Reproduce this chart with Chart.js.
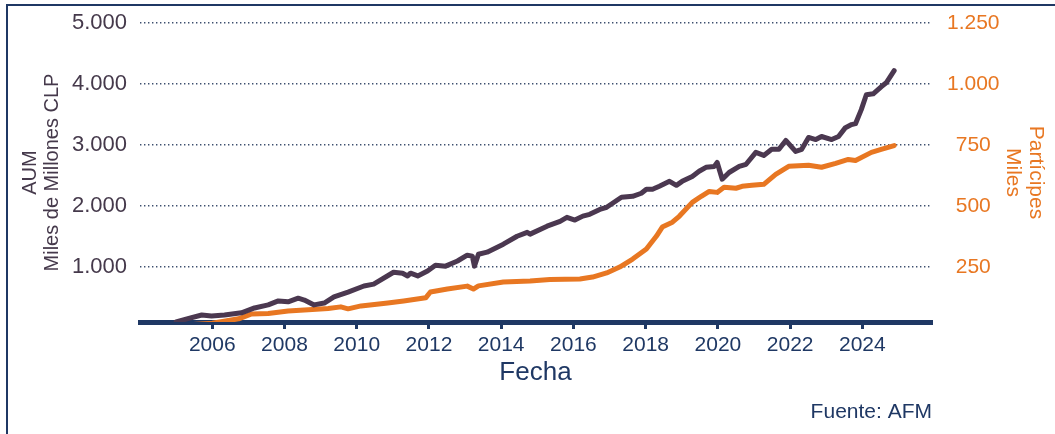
<!DOCTYPE html>
<html lang="es">
<head>
<meta charset="utf-8">
<title>AUM y Partícipes</title>
<script src="https://cdn.jsdelivr.net/npm/chart.js@4.4.1/dist/chart.umd.min.js"></script>
<style>
  html, body { margin: 0; padding: 0; background: #fff; }
  #wrap { width: 1055px; height: 434px; }
</style>
</head>
<body>
<div id="wrap"><canvas id="chart" width="1055" height="434"></canvas></div>
<script>
// AUM (miles de millones CLP)
const aumFechas = [
  2005.0, 2005.3, 2005.71, 2005.98, 2006.34, 2006.81, 2007.17, 2007.55, 2007.83, 2008.10,
  2008.38, 2008.55, 2008.82, 2009.10, 2009.37, 2009.76, 2010.20, 2010.47, 2011.02, 2011.27,
  2011.41, 2011.49, 2011.69, 2011.96, 2012.18, 2012.46, 2012.79, 2013.06, 2013.20, 2013.26,
  2013.37, 2013.61, 2014.06, 2014.44, 2014.72, 2014.80, 2015.27, 2015.63, 2015.82, 2016.04,
  2016.26, 2016.45, 2016.73, 2016.92, 2017.33, 2017.64, 2017.88, 2018.02, 2018.19, 2018.38,
  2018.66, 2018.85, 2019.01, 2019.29, 2019.48, 2019.67, 2019.90, 2019.98, 2020.12, 2020.31,
  2020.59, 2020.78, 2021.05, 2021.27, 2021.49, 2021.69, 2021.88, 2022.15, 2022.32, 2022.51,
  2022.71, 2022.87, 2023.15, 2023.34, 2023.53, 2023.70, 2023.81, 2023.97, 2024.11, 2024.30,
  2024.52, 2024.66, 2024.88
];
const aumValores = [
  100, 150, 215, 200, 215, 250, 330, 380, 445, 430,
  490, 460, 380, 410, 510, 590, 690, 720, 915, 900,
  855, 900, 855, 935, 1030, 1015, 1100, 1195, 1180, 1015,
  1210, 1245, 1375, 1505, 1570, 1540, 1670, 1750, 1815, 1770,
  1835, 1865, 1945, 1980, 2145, 2160, 2210, 2275, 2275, 2325,
  2405, 2340, 2405, 2485, 2570, 2635, 2650, 2715, 2440, 2550,
  2650, 2685, 2880, 2830, 2930, 2930, 3075, 2895, 2930, 3125,
  3090, 3140, 3090, 3140, 3285, 3335, 3350, 3580, 3825, 3840,
  3955, 4020, 4220
];

// Partícipes (miles)
const partFechas = [
  2005.0, 2006.0, 2006.73, 2007.09, 2007.55, 2008.10, 2008.66, 2009.21, 2009.56, 2009.76,
  2010.12, 2010.86, 2011.30, 2011.91, 2012.04, 2012.51, 2013.06, 2013.23, 2013.37, 2014.06,
  2014.80, 2015.35, 2016.18, 2016.53, 2016.92, 2017.28, 2017.64, 2018.02, 2018.30, 2018.46,
  2018.74, 2018.93, 2019.29, 2019.54, 2019.76, 2019.98, 2020.17, 2020.50, 2020.67, 2020.94,
  2021.27, 2021.60, 2021.96, 2022.51, 2022.87, 2023.26, 2023.61, 2023.81, 2024.25, 2024.52,
  2024.88
];
const partValores = [
  10, 20, 38, 58, 60, 70, 75, 80, 87, 79,
  91, 103, 111, 124, 148, 160, 172, 160, 173, 189,
  193, 199, 201, 209, 226, 250, 283, 324, 377, 414,
  434, 458, 515, 540, 560, 556, 577, 573, 581, 585,
  589, 630, 663, 667, 659, 675, 691, 687, 720, 732,
  748
];

// tick labels
const ticksAnios = [2006, 2008, 2010, 2012, 2014, 2016, 2018, 2020, 2022, 2024];
const ticksAUM = [1000, 2000, 3000, 4000, 5000];
const ticksPart = [250, 500, 750, 1000, 1250];

const NAVY = '#1f3864';
const PURPLE = '#4b3850';
const ORANGE = '#e87722';
const FONT = "'Liberation Sans', Arial, sans-serif";
const CLEAR = 'rgba(0,0,0,0)';

const fmtMiles = v => String(v).replace(/\B(?=(\d{3})+(?!\d))/g, '.');
const toPoints = (xs, ys) => xs.map((x, i) => ({ x: x, y: ys[i] }));

// frame + source note
const extras = {
  id: 'extras',
  beforeDraw(chart) {
    const ctx = chart.ctx;
    ctx.save();
    ctx.fillStyle = '#fff';
    ctx.fillRect(0, 0, chart.width, chart.height);
    ctx.fillStyle = NAVY;
    ctx.fillRect(6, 4, 2, chart.height - 4);
    ctx.fillRect(6, 4, chart.width - 6, 2);
    ctx.restore();
  },
  afterDraw(chart) {
    const ctx = chart.ctx;
    ctx.save();
    ctx.font = '21px ' + FONT;
    ctx.fillStyle = NAVY;
    ctx.textAlign = 'right';
    ctx.textBaseline = 'alphabetic';
    ctx.fillText('Fuente: AFM', chart.chartArea.right + 1, 418);
    ctx.restore();
  }
};

new Chart(document.getElementById('chart'), {
  type: 'line',
  data: {
    datasets: [
      {
        label: 'AUM',
        data: toPoints(aumFechas, aumValores),
        yAxisID: 'y',
        borderColor: PURPLE,
        borderWidth: 5,
        pointRadius: 0,
        tension: 0,
        borderJoinStyle: 'round',
        borderCapStyle: 'round'
      },
      {
        label: 'Partícipes',
        data: toPoints(partFechas, partValores),
        yAxisID: 'y1',
        borderColor: ORANGE,
        borderWidth: 5,
        pointRadius: 0,
        tension: 0,
        borderJoinStyle: 'round',
        borderCapStyle: 'round'
      }
    ]
  },
  options: {
    responsive: false,
    animation: false,
    devicePixelRatio: 1,
    layout: { padding: { top: 23, left: 0, right: 0, bottom: 0 } },
    plugins: {
      legend: { display: false },
      tooltip: { enabled: false }
    },
    scales: {
      x: {
        type: 'linear',
        min: 2004,
        max: 2025.9,
        z: 1,
        afterBuildTicks: axis => { axis.ticks = ticksAnios.map(v => ({ value: v })); },
        afterFit: axis => { axis.height = 112; },
        border: { display: true, color: NAVY, width: 5 },
        grid: { drawOnChartArea: false, drawTicks: true, tickLength: 7, color: NAVY, lineWidth: 3 },
        ticks: {
          autoSkip: false,
          maxRotation: 0,
          padding: 4,
          color: NAVY,
          font: { family: FONT, size: 21 },
          callback: v => String(v)
        },
        title: {
          display: true,
          text: 'Fecha',
          color: NAVY,
          font: { family: FONT, size: 26 },
          padding: { top: 0, bottom: 46 }
        }
      },
      y: {
        position: 'left',
        min: 100,
        max: 5000,
        afterBuildTicks: axis => { axis.ticks = ticksAUM.map(v => ({ value: v })); },
        afterFit: axis => { axis.width = 140; },
        border: { display: false, dash: [1.4, 2.6] },
        grid: { drawTicks: true, tickLength: 13, tickColor: CLEAR, color: '#3d4f6e', lineWidth: 1.4 },
        ticks: {
          padding: 0,
          color: '#45394b',
          font: { family: FONT, size: 22 },
          callback: v => fmtMiles(v)
        },
        title: {
          display: true,
          text: ['AUM', 'Miles de Millones CLP'],
          color: '#45394b',
          font: { family: FONT, size: 20, lineHeight: 1.1 },
          padding: { top: 19, bottom: 0 }
        }
      },
      y1: {
        position: 'right',
        min: 25,
        max: 1250,
        afterBuildTicks: axis => { axis.ticks = ticksPart.map(v => ({ value: v })); },
        afterFit: axis => { axis.width = 124; },
        border: { display: false },
        grid: { drawOnChartArea: false, drawTicks: true, tickLength: 16, tickColor: CLEAR, color: CLEAR },
        ticks: {
          padding: 0,
          crossAlign: 'center',
          color: ORANGE,
          font: { family: FONT, size: 21 },
          callback: v => fmtMiles(v)
        },
        title: {
          display: true,
          text: ['Partícipes', 'Miles'],
          color: ORANGE,
          font: { family: FONT, size: 21, lineHeight: 1.1 },
          padding: { top: 8, bottom: 0 }
        }
      }
    }
  },
  plugins: [extras]
});
</script>
</body>
</html>
